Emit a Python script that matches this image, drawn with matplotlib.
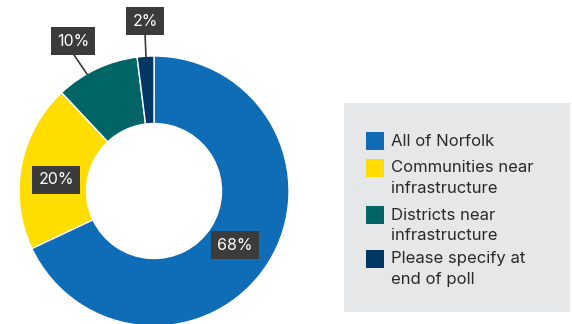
import matplotlib
matplotlib.use("Agg")
import matplotlib.pyplot as plt
from matplotlib.patches import Rectangle

categories = ["All of Norfolk", "Communities near\ninfrastructure",
              "Districts near\ninfrastructure", "Please specify at\nend of poll"]
values = [68, 20, 10, 2]
labels = ["68%", "20%", "10%", "2%"]
colors = ["#0f6cb6", "#ffdd00", "#006564", "#003764"]

plt.rcParams['font.family'] = ['Inter', 'DejaVu Sans']

W, H = 572, 324
fig = plt.figure(figsize=(W / 100, H / 100), dpi=100)
ax = fig.add_axes([0, 0, 1, 1])

cx, cy, R = 154, H - 191, 135
wedges, _ = ax.pie(values, startangle=90, counterclock=False,
                   colors=colors, center=(cx, cy), radius=R,
                   wedgeprops=dict(width=R * 0.5, edgecolor='white', linewidth=1))
ax.set_xlim(0, W)
ax.set_ylim(0, H)
ax.set_aspect('equal')
ax.axis('off')

# label positions (pixel coords, y from top)
lab_pos = [(235, 245), (56, 180), (73, 41), (145, 21)]
box = dict(boxstyle='square,pad=0.38', fc='#3b3b3b', ec='none')
for lab, (x, y) in zip(labels, lab_pos):
    ax.text(x, H - y, lab, color='white', fontsize=11.5, ha='center', va='center',
            bbox=box, zorder=5)

# leader lines
ax.plot([72, 87], [H - 52, H - 74], color='#3b3b3b', lw=1.2, zorder=4)
ax.plot([145, 146], [H - 33, H - 57], color='#3b3b3b', lw=1.2, zorder=4)

# legend panel
ax.add_patch(Rectangle((344, H - 312), 226, 209, fc='#e6e7e9', ec='none', zorder=1))
sq_tops = [132, 159, 206, 250]
for cat, col, t in zip(categories, colors, sq_tops):
    ax.add_patch(Rectangle((366, H - t - 18), 18, 18, fc=col, ec='none', zorder=2))
    ax.text(391, H - t - 1.5, cat, fontsize=12, color='#2a2a2a', ha='left', va='top',
            linespacing=1.45, zorder=3)

fig.savefig("out.png", dpi=100)
